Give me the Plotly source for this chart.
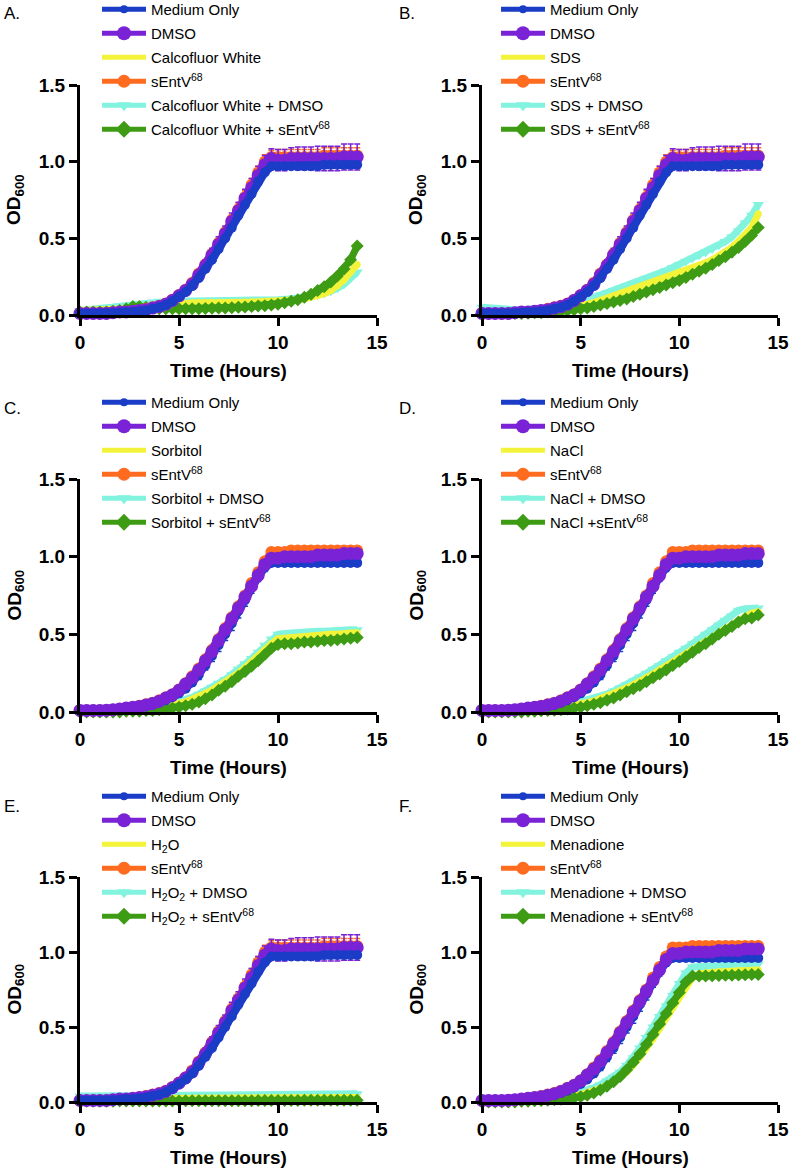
import plotly.graph_objects as go

W, H = 790, 1170
FONT = "Arial, 'Liberation Sans', Helvetica, sans-serif"

# ---------------- data (OD600, 20-min sampling) ----------------
MINUTES = [0, 20, 40, 60, 80, 100, 120, 140, 160, 180, 200, 220, 240, 260, 280,
           300, 320, 340, 360, 380, 400, 420, 440, 460, 480, 500, 520, 540, 560, 580,
           600, 620, 640, 660, 680, 700, 720, 740, 760, 780, 800, 820, 840]

# control set used in panels A, B, E
MED1 = [0.01, 0.01, 0.01, 0.01, 0.01, 0.01, 0.015, 0.02, 0.02, 0.025, 0.03, 0.04, 0.05, 0.065, 0.09,
        0.12, 0.15, 0.19, 0.24, 0.30, 0.36, 0.43, 0.50, 0.57, 0.65, 0.72, 0.79, 0.87, 0.93, 0.97,
        0.97, 0.97, 0.97, 0.97, 0.97, 0.97, 0.97, 0.98, 0.98, 0.98, 0.98, 0.98, 0.98]
DMSO1 = [0.01, 0.01, 0.01, 0.01, 0.01, 0.015, 0.02, 0.02, 0.025, 0.03, 0.035, 0.045, 0.055, 0.07, 0.095,
         0.125, 0.16, 0.20, 0.26, 0.32, 0.39, 0.46, 0.53, 0.61, 0.68, 0.76, 0.83, 0.91, 0.98, 1.02,
         1.01, 1.01, 1.02, 1.02, 1.02, 1.02, 1.02, 1.02, 1.02, 1.02, 1.03, 1.03, 1.03]
DMSO1_SD = [0.005, 0.005, 0.005, 0.005, 0.005, 0.005, 0.005, 0.005, 0.005, 0.008, 0.008, 0.01, 0.01, 0.012, 0.015,
            0.02, 0.025, 0.03, 0.035, 0.04, 0.045, 0.05, 0.05, 0.055, 0.055, 0.06, 0.06, 0.06, 0.06, 0.065,
            0.07, 0.07, 0.07, 0.075, 0.075, 0.075, 0.08, 0.08, 0.08, 0.08, 0.085, 0.085, 0.085]
SENT1 = [0.01, 0.01, 0.01, 0.01, 0.01, 0.015, 0.02, 0.02, 0.025, 0.03, 0.04, 0.05, 0.06, 0.075, 0.10,
         0.13, 0.165, 0.21, 0.27, 0.33, 0.40, 0.47, 0.54, 0.62, 0.69, 0.77, 0.85, 0.93, 1.00, 1.03,
         1.03, 1.03, 1.03, 1.03, 1.03, 1.03, 1.03, 1.04, 1.04, 1.04, 1.04, 1.04, 1.04]
SENT1_SD = [0.005, 0.005, 0.005, 0.005, 0.005, 0.005, 0.005, 0.005, 0.005, 0.008, 0.008, 0.01, 0.01, 0.012, 0.015,
            0.02, 0.02, 0.025, 0.025, 0.03, 0.03, 0.03, 0.035, 0.035, 0.035, 0.04, 0.04, 0.04, 0.045, 0.045,
            0.05, 0.05, 0.05, 0.05, 0.05, 0.05, 0.05, 0.05, 0.05, 0.05, 0.05, 0.05, 0.05]

# control set used in panels C, D, F
MED2 = [0.01, 0.01, 0.01, 0.01, 0.01, 0.015, 0.015, 0.02, 0.025, 0.03, 0.035, 0.045, 0.06, 0.075, 0.095,
        0.12, 0.15, 0.19, 0.24, 0.30, 0.36, 0.43, 0.50, 0.57, 0.65, 0.72, 0.80, 0.87, 0.93, 0.96,
        0.96, 0.96, 0.96, 0.96, 0.96, 0.96, 0.96, 0.96, 0.96, 0.96, 0.96, 0.96, 0.96]
MED2_SD = [0.005, 0.005, 0.005, 0.005, 0.005, 0.005, 0.005, 0.005, 0.005, 0.005, 0.005, 0.008, 0.01, 0.01, 0.015,
           0.02, 0.02, 0.025, 0.03, 0.03, 0.035, 0.04, 0.04, 0.045, 0.045, 0.04, 0.035, 0.03, 0.025, 0.02,
           0.02, 0.02, 0.02, 0.02, 0.02, 0.02, 0.02, 0.02, 0.02, 0.02, 0.02, 0.02, 0.02]
DMSO2 = [0.01, 0.01, 0.01, 0.01, 0.012, 0.015, 0.02, 0.025, 0.03, 0.035, 0.045, 0.055, 0.07, 0.09, 0.11,
         0.14, 0.18, 0.22, 0.27, 0.33, 0.39, 0.46, 0.53, 0.60, 0.67, 0.74, 0.81, 0.88, 0.95, 0.99,
         0.99, 1.0, 1.0, 1.0, 1.0, 1.0, 1.01, 1.01, 1.01, 1.01, 1.02, 1.02, 1.02]
SENT2 = [0.01, 0.01, 0.01, 0.01, 0.012, 0.015, 0.02, 0.025, 0.03, 0.04, 0.05, 0.06, 0.075, 0.095, 0.115,
         0.145, 0.185, 0.23, 0.28, 0.34, 0.40, 0.47, 0.54, 0.61, 0.68, 0.75, 0.83, 0.90, 0.97, 1.03,
         1.03, 1.03, 1.04, 1.04, 1.04, 1.04, 1.04, 1.04, 1.04, 1.04, 1.04, 1.04, 1.04]
SENT2_SD = [0.005, 0.005, 0.005, 0.005, 0.005, 0.005, 0.005, 0.005, 0.005, 0.005, 0.005, 0.005, 0.01, 0.01, 0.01,
            0.015, 0.015, 0.02, 0.02, 0.02, 0.02, 0.02, 0.025, 0.025, 0.025, 0.025, 0.025, 0.025, 0.025, 0.025,
            0.025, 0.025, 0.025, 0.025, 0.025, 0.025, 0.025, 0.025, 0.025, 0.025, 0.025, 0.025, 0.025]

# A. Calcofluor White
CW = [0.03, 0.03, 0.03, 0.03, 0.035, 0.035, 0.04, 0.04, 0.045, 0.05, 0.055, 0.06, 0.065, 0.07, 0.07,
      0.075, 0.075, 0.078, 0.08, 0.08, 0.08, 0.08, 0.08, 0.082, 0.082, 0.083, 0.084, 0.085, 0.086, 0.088,
      0.09, 0.092, 0.095, 0.10, 0.105, 0.115, 0.125, 0.14, 0.16, 0.19, 0.23, 0.28, 0.33]
CW_DMSO = [0.03, 0.035, 0.04, 0.045, 0.05, 0.055, 0.06, 0.065, 0.07, 0.075, 0.08, 0.085, 0.09, 0.09, 0.09,
           0.09, 0.09, 0.092, 0.092, 0.093, 0.094, 0.095, 0.095, 0.096, 0.097, 0.098, 0.099, 0.10, 0.10, 0.10,
           0.10, 0.102, 0.105, 0.11, 0.115, 0.12, 0.13, 0.14, 0.155, 0.175, 0.20, 0.24, 0.28]
CW_SENT = [0.02, 0.02, 0.02, 0.02, 0.02, 0.025, 0.03, 0.04, 0.055, 0.055, 0.05, 0.045, 0.04, 0.04, 0.04,
           0.04, 0.04, 0.04, 0.04, 0.042, 0.044, 0.045, 0.046, 0.048, 0.05, 0.052, 0.055, 0.058, 0.06, 0.065,
           0.07, 0.08, 0.09, 0.10, 0.115, 0.135, 0.16, 0.185, 0.215, 0.255, 0.30, 0.36, 0.45]

# B. SDS
SDS = [0.02, 0.02, 0.02, 0.02, 0.02, 0.02, 0.02, 0.025, 0.025, 0.03, 0.03, 0.035, 0.04, 0.045, 0.05,
       0.06, 0.07, 0.08, 0.095, 0.105, 0.12, 0.135, 0.15, 0.165, 0.18, 0.195, 0.21, 0.225, 0.24, 0.255,
       0.27, 0.285, 0.30, 0.32, 0.34, 0.36, 0.385, 0.41, 0.44, 0.48, 0.52, 0.57, 0.66]
SDS_DMSO = [0.05, 0.045, 0.04, 0.04, 0.035, 0.035, 0.035, 0.035, 0.04, 0.04, 0.045, 0.05, 0.06, 0.065, 0.075,
            0.085, 0.10, 0.115, 0.13, 0.145, 0.16, 0.175, 0.19, 0.205, 0.22, 0.24, 0.255, 0.27, 0.29, 0.31,
            0.33, 0.35, 0.37, 0.39, 0.41, 0.43, 0.455, 0.48, 0.51, 0.55, 0.60, 0.65, 0.72]
SDS_SENT = [0.01, 0.01, 0.01, 0.01, 0.01, 0.01, 0.01, 0.012, 0.015, 0.015, 0.02, 0.02, 0.025, 0.03, 0.035,
            0.04, 0.045, 0.055, 0.065, 0.075, 0.085, 0.095, 0.105, 0.12, 0.135, 0.15, 0.165, 0.18, 0.195, 0.21,
            0.225, 0.245, 0.265, 0.285, 0.305, 0.33, 0.355, 0.38, 0.41, 0.44, 0.48, 0.52, 0.57]

# C. Sorbitol
SORB = [0.01, 0.01, 0.01, 0.01, 0.01, 0.01, 0.01, 0.012, 0.015, 0.015, 0.02, 0.025, 0.03, 0.035, 0.045,
        0.055, 0.065, 0.08, 0.10, 0.12, 0.14, 0.165, 0.19, 0.22, 0.25, 0.285, 0.32, 0.36, 0.40, 0.44,
        0.47, 0.475, 0.48, 0.48, 0.485, 0.49, 0.49, 0.495, 0.50, 0.50, 0.505, 0.51, 0.51]
SORB_DMSO = [0.01, 0.01, 0.01, 0.01, 0.01, 0.012, 0.015, 0.017, 0.02, 0.022, 0.025, 0.03, 0.035, 0.045, 0.055,
             0.065, 0.08, 0.095, 0.115, 0.135, 0.16, 0.185, 0.21, 0.24, 0.275, 0.31, 0.345, 0.385, 0.43, 0.47,
             0.50, 0.505, 0.51, 0.51, 0.515, 0.52, 0.52, 0.52, 0.525, 0.525, 0.53, 0.53, 0.53]
SORB_SENT = [0.0, 0.0, 0.0, 0.0, 0.0, 0.0, 0.0, 0.005, 0.005, 0.005, 0.01, 0.01, 0.015, 0.02, 0.025,
             0.03, 0.04, 0.05, 0.065, 0.085, 0.11, 0.14, 0.165, 0.195, 0.23, 0.26, 0.295, 0.33, 0.37, 0.41,
             0.435, 0.44, 0.44, 0.445, 0.45, 0.45, 0.455, 0.46, 0.46, 0.465, 0.47, 0.475, 0.48]

# D. NaCl
NACL = [0.01, 0.01, 0.01, 0.01, 0.01, 0.01, 0.01, 0.012, 0.015, 0.018, 0.02, 0.025, 0.03, 0.035, 0.04,
        0.05, 0.06, 0.07, 0.085, 0.10, 0.115, 0.135, 0.155, 0.175, 0.195, 0.22, 0.245, 0.27, 0.295, 0.32,
        0.35, 0.375, 0.40, 0.43, 0.455, 0.48, 0.51, 0.535, 0.56, 0.59, 0.615, 0.635, 0.645]
NACL_DMSO = [0.01, 0.01, 0.012, 0.012, 0.015, 0.015, 0.018, 0.02, 0.022, 0.025, 0.03, 0.035, 0.04, 0.045, 0.055,
             0.065, 0.075, 0.085, 0.10, 0.115, 0.135, 0.155, 0.175, 0.20, 0.225, 0.25, 0.275, 0.30, 0.33, 0.355,
             0.385, 0.41, 0.44, 0.47, 0.50, 0.53, 0.56, 0.59, 0.62, 0.655, 0.665, 0.67, 0.67]
NACL_SENT = [0.0, 0.0, 0.0, 0.0, 0.0, 0.0, 0.0, 0.005, 0.005, 0.008, 0.01, 0.012, 0.015, 0.02, 0.025,
             0.03, 0.04, 0.05, 0.06, 0.075, 0.09, 0.11, 0.13, 0.15, 0.17, 0.195, 0.22, 0.245, 0.27, 0.30,
             0.325, 0.355, 0.385, 0.415, 0.44, 0.47, 0.50, 0.525, 0.55, 0.58, 0.60, 0.605, 0.625]

# E. H2O2
H2O = [0.02, 0.02, 0.02, 0.02, 0.02, 0.022, 0.022, 0.022, 0.022, 0.022, 0.023, 0.023, 0.023, 0.023, 0.024,
       0.024, 0.024, 0.024, 0.025, 0.025, 0.025, 0.025, 0.025, 0.026, 0.026, 0.026, 0.026, 0.027, 0.027, 0.027,
       0.027, 0.028, 0.028, 0.028, 0.028, 0.029, 0.029, 0.029, 0.03, 0.03, 0.03, 0.03, 0.03]
H2O2_DMSO = [0.04, 0.04, 0.04, 0.04, 0.041, 0.041, 0.042, 0.042, 0.042, 0.043, 0.043, 0.044, 0.044, 0.044, 0.045,
             0.045, 0.045, 0.046, 0.046, 0.046, 0.047, 0.047, 0.047, 0.048, 0.048, 0.048, 0.049, 0.049, 0.05, 0.05,
             0.05, 0.05, 0.051, 0.051, 0.052, 0.052, 0.052, 0.053, 0.053, 0.054, 0.054, 0.055, 0.055]
H2O2_SENT = [0.005, 0.005, 0.005, 0.005, 0.005, 0.005, 0.006, 0.006, 0.006, 0.006, 0.006, 0.007, 0.007, 0.007, 0.007,
             0.007, 0.008, 0.008, 0.008, 0.008, 0.008, 0.008, 0.009, 0.009, 0.009, 0.009, 0.009, 0.01, 0.01, 0.01,
             0.01, 0.01, 0.01, 0.01, 0.011, 0.011, 0.011, 0.011, 0.012, 0.012, 0.012, 0.012, 0.012]

# F. Menadione
MEN = [0.01, 0.01, 0.01, 0.01, 0.01, 0.01, 0.012, 0.015, 0.017, 0.02, 0.022, 0.025, 0.03, 0.035, 0.04,
       0.05, 0.06, 0.075, 0.09, 0.11, 0.135, 0.165, 0.20, 0.245, 0.30, 0.36, 0.42, 0.49, 0.56, 0.63,
       0.70, 0.77, 0.83, 0.855, 0.86, 0.865, 0.87, 0.87, 0.872, 0.875, 0.875, 0.878, 0.88]
MEN_DMSO = [0.01, 0.01, 0.01, 0.01, 0.012, 0.015, 0.017, 0.02, 0.022, 0.025, 0.03, 0.035, 0.04, 0.045, 0.055,
            0.065, 0.08, 0.095, 0.115, 0.14, 0.165, 0.20, 0.245, 0.295, 0.36, 0.43, 0.50, 0.57, 0.64, 0.71,
            0.79, 0.86, 0.90, 0.90, 0.905, 0.905, 0.91, 0.91, 0.912, 0.915, 0.915, 0.918, 0.92]
MEN_SENT = [0.0, 0.0, 0.0, 0.0, 0.0, 0.0, 0.005, 0.005, 0.008, 0.01, 0.012, 0.015, 0.018, 0.022, 0.028,
            0.035, 0.045, 0.06, 0.08, 0.105, 0.135, 0.17, 0.215, 0.265, 0.32, 0.385, 0.45, 0.52, 0.59, 0.66,
            0.73, 0.80, 0.84, 0.84, 0.84, 0.842, 0.843, 0.845, 0.845, 0.847, 0.848, 0.85, 0.85]

SENT_LABEL = "sEntV<sup>68</sup>"
PANEL_LETTERS = ["A.", "B.", "C.", "D.", "E.", "F."]
TREATMENT_LABELS = [
    ["Calcofluor White", "Calcofluor White + DMSO", "Calcofluor White + sEntV<sup>68</sup>"],
    ["SDS", "SDS + DMSO", "SDS + sEntV<sup>68</sup>"],
    ["Sorbitol", "Sorbitol + DMSO", "Sorbitol + sEntV<sup>68</sup>"],
    ["NaCl", "NaCl + DMSO", "NaCl +sEntV<sup>68</sup>"],
    ["H<sub>2</sub>O", "H<sub>2</sub>O<sub>2</sub> + DMSO", "H<sub>2</sub>O<sub>2</sub> + sEntV<sup>68</sup>"],
    ["Menadione", "Menadione + DMSO", "Menadione + sEntV<sup>68</sup>"],
]
TREATMENTS = [
    (CW, CW_DMSO, CW_SENT),
    (SDS, SDS_DMSO, SDS_SENT),
    (SORB, SORB_DMSO, SORB_SENT),
    (NACL, NACL_DMSO, NACL_SENT),
    (H2O, H2O2_DMSO, H2O2_SENT),
    (MEN, MEN_DMSO, MEN_SENT),
]
CONTROL_SET = [1, 1, 2, 2, 1, 2]

X_TICKS = [0, 5, 10, 15]
Y_TICKS = [0.0, 0.5, 1.0, 1.5]

# ---------------- styling ----------------
BLUE = "#1b3cc6"
PURPLE = "#7a22d6"
YELLOW = "#f3f43a"
ORANGE = "#ff6b1f"
CYAN = "#82f3df"
GREEN = "#3e9b14"

COL_X = [(80, 377), (482, 778)]
ROW_Y = [(85, 315), (479, 712), (877, 1102)]
LEG_X = [97, 496]
LEG_TOP = [-7, 386, 780]

hours = [m / 60 for m in MINUTES]

fig = go.Figure()
layout = dict(width=W, height=H, margin=dict(l=0, r=0, t=0, b=0, autoexpand=False),
              paper_bgcolor="white", plot_bgcolor="white", showlegend=True)
annotations = []


def err(sd, color):
    if sd is None:
        return None
    return dict(type="data", array=sd, color=color, thickness=1.5, width=3, visible=True)


for i in range(6):
    n = i + 1
    col, row = i % 2, i // 2
    xs = "x" if n == 1 else f"x{n}"
    ys = "y" if n == 1 else f"y{n}"
    leg = "legend" if n == 1 else f"legend{n}"
    if CONTROL_SET[i] == 1:
        med, med_sd, dmso, dmso_sd, sent, sent_sd = MED1, None, DMSO1, DMSO1_SD, SENT1, SENT1_SD
    else:
        med, med_sd, dmso, dmso_sd, sent, sent_sd = MED2, MED2_SD, DMSO2, None, SENT2, SENT2_SD
    trt, trt_dmso, trt_sent = TREATMENTS[i]
    lab_t, lab_td, lab_ts = TREATMENT_LABELS[i]

    # (key, y, sd, color, symbol, plot marker size, plot line width)
    plot_series = [
        ("td", trt_dmso, None, CYAN, "triangle-down", 10, 7),
        ("t", trt, None, YELLOW, "circle", 7, 7),
        ("ts", trt_sent, None, GREEN, "diamond", 10, 7),
        ("s", sent, sent_sd, ORANGE, "circle", 12, 8),
    ]
    if CONTROL_SET[i] == 1:
        plot_series += [("d", dmso, dmso_sd, PURPLE, "circle", 13, 9),
                        ("m", med, med_sd, BLUE, "circle", 10, 8)]
    else:
        plot_series += [("m", med, med_sd, BLUE, "circle", 10, 8),
                        ("d", dmso, dmso_sd, PURPLE, "circle", 13, 9)]

    for key, yv, sd, color, sym, size, lw in plot_series:
        fig.add_trace(go.Scatter(
            x=hours, y=yv, mode="lines+markers", showlegend=False,
            line=dict(color=color, width=lw),
            marker=dict(color=color, symbol=sym, size=size, line=dict(width=0)),
            error_y=err(sd, color),
            xaxis=xs, yaxis=ys, cliponaxis=False, hoverinfo="skip"))

    # legend entries (no data; they only draw the legend keys)
    legend_keys = [
        ("Medium Only", BLUE, "circle", 8),
        ("DMSO", PURPLE, "circle", 14),
        (lab_t, YELLOW, "circle", 4),
        (SENT_LABEL, ORANGE, "circle", 13),
        (lab_td, CYAN, "triangle-down", 12),
        (lab_ts, GREEN, "diamond", 13),
    ]
    for k, (name, color, sym, size) in enumerate(legend_keys):
        fig.add_trace(go.Scatter(
            x=[None], y=[None], name=name, mode="lines+markers",
            line=dict(color=color, width=5),
            marker=dict(color=color, symbol=sym, size=size, line=dict(width=0)),
            xaxis=xs, yaxis=ys, legend=leg, legendgroup=f"p{n}_{k}", hoverinfo="skip"))

    x0, x1 = COL_X[col]
    ytop, ybot = ROW_Y[row]
    xk = "xaxis" if n == 1 else f"xaxis{n}"
    yk = "yaxis" if n == 1 else f"yaxis{n}"
    tickfont = dict(family=FONT, size=19, color="black", weight="bold")
    layout[xk] = dict(domain=[x0 / W, x1 / W], anchor=ys, range=[0, 15], tickvals=X_TICKS,
                      showline=True, linewidth=3, linecolor="black", ticks="outside",
                      ticklen=8, tickwidth=3, tickcolor="black", tickfont=tickfont,
                      showgrid=False, zeroline=False, automargin=False, fixedrange=True)
    layout[yk] = dict(domain=[1 - ybot / H, 1 - ytop / H], anchor=xs, range=[0, 1.5],
                      tickvals=Y_TICKS, tickformat=".1f",
                      showline=True, linewidth=3, linecolor="black", ticks="outside",
                      ticklen=8, tickwidth=3, tickcolor="black", tickfont=tickfont,
                      showgrid=False, zeroline=False, automargin=False, fixedrange=True)
    layout[leg] = dict(x=LEG_X[col] / W, y=1 - LEG_TOP[row] / H,
                       xref="paper", yref="paper", xanchor="left", yanchor="top",
                       bgcolor="rgba(0,0,0,0)", traceorder="grouped", tracegroupgap=1.5,
                       itemwidth=44,
                       font=dict(family=FONT, size=15, color="black"))

    # panel letter
    annotations.append(dict(text=PANEL_LETTERS[i], x=(2 if col == 0 else 397) / W,
                            y=1 - (ytop - 71) / H, xref="paper", yref="paper",
                            xanchor="left", yanchor="middle", showarrow=False,
                            font=dict(family=FONT, size=17, color="black")))
    # axis titles
    annotations.append(dict(text="<b>Time (Hours)</b>", x=((x0 + x1) / 2) / W,
                            y=1 - (ybot + 55) / H, xref="paper", yref="paper",
                            xanchor="center", yanchor="middle", showarrow=False,
                            font=dict(family=FONT, size=19, color="black")))
    annotations.append(dict(text="<b>OD<sub>600</sub></b>", x=(x0 - 65) / W,
                            y=1 - ((ytop + ybot) / 2) / H, xref="paper", yref="paper",
                            xanchor="center", yanchor="middle", textangle=-90, showarrow=False,
                            font=dict(family=FONT, size=19, color="black")))

layout["annotations"] = annotations
fig.update_layout(**layout)
fig.write_html("out.html", config={"displayModeBar": False},
               post_script="document.body.style.margin='0';")
